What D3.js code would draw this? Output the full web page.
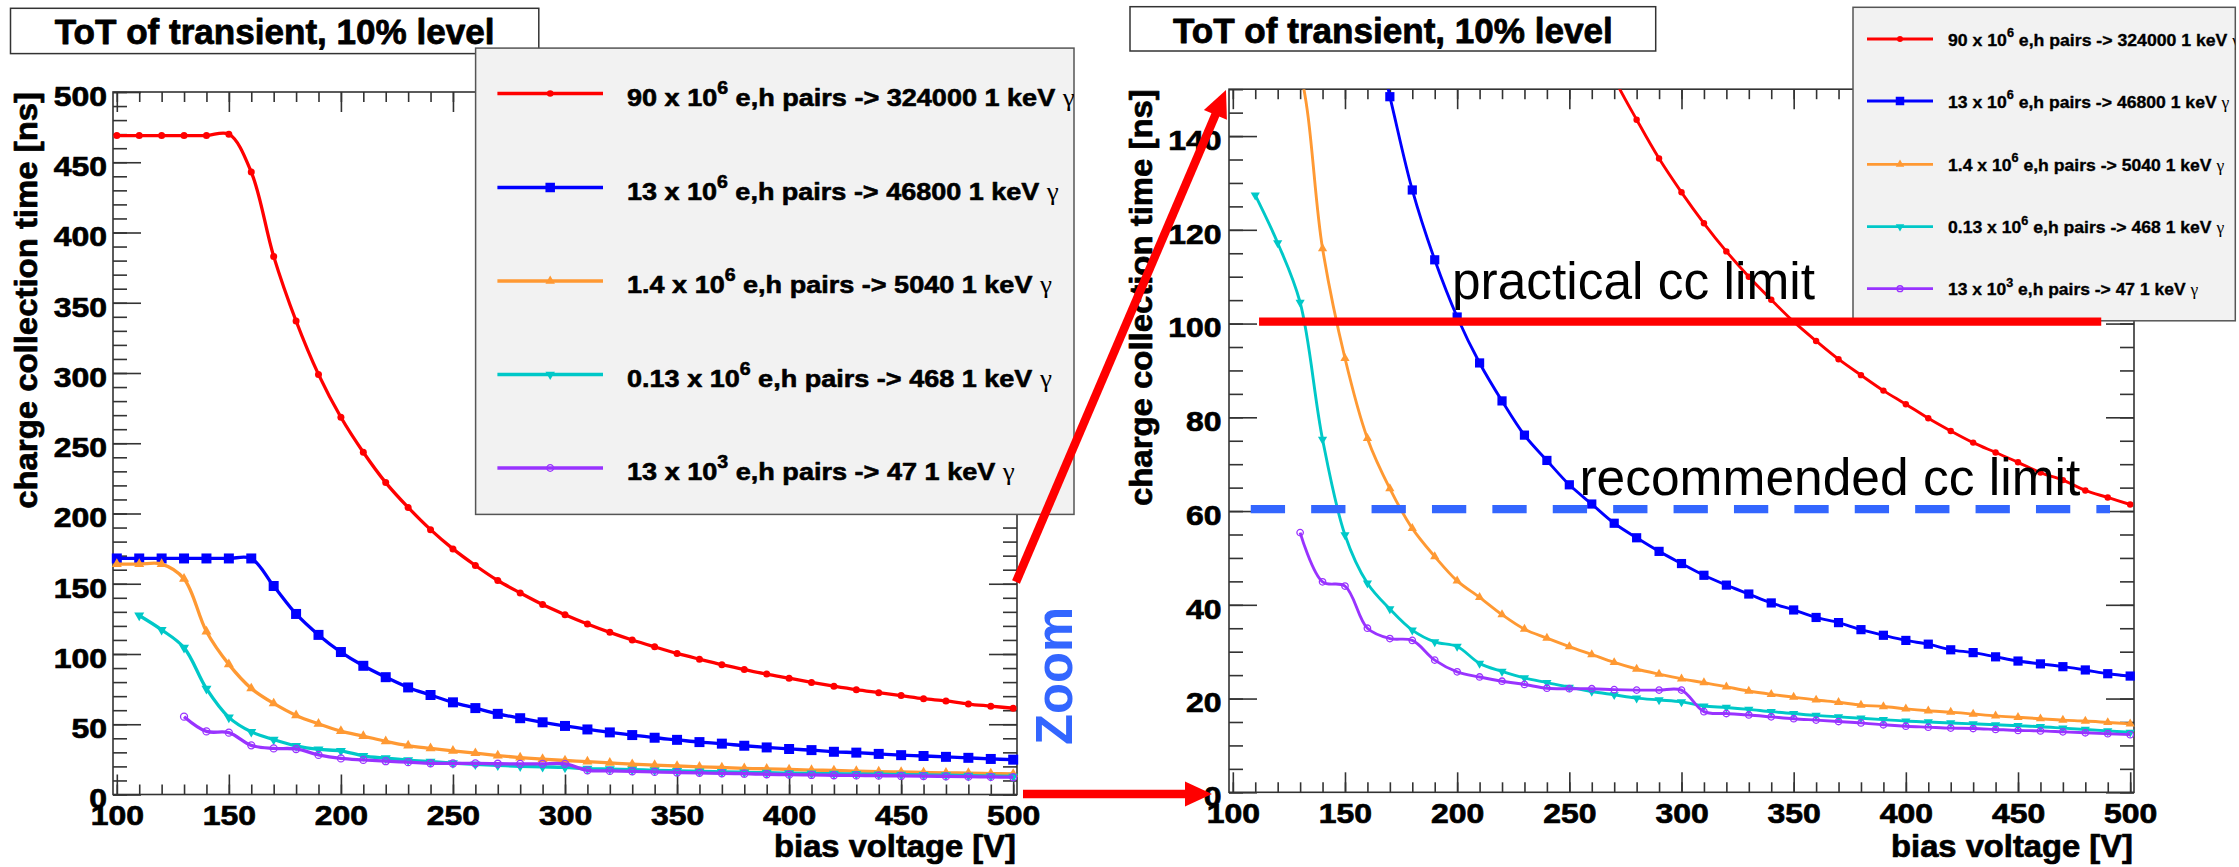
<!DOCTYPE html>
<html lang="en">
<head>
<meta charset="utf-8">
<title>ToT of transient, 10% level</title>
<script src="https://cdn.jsdelivr.net/npm/d3@7"></script>
<style>
  html, body { margin: 0; padding: 0; background: #ffffff; }
  svg { display: block; }
  text { font-family: "Liberation Sans", Arial, Helvetica, sans-serif; white-space: pre; }
</style>
</head>
<body>
<svg id="chart"></svg>
<script>
const width = 2239;
const height = 867;

// bias voltage [V]
const voltages = [100, 110, 120, 130, 140, 150, 160, 170, 180, 190, 200,
  210, 220, 230, 240, 250, 260, 270, 280, 290, 300,
  310, 320, 330, 340, 350, 360, 370, 380, 390, 400,
  410, 420, 430, 440, 450, 460, 470, 480, 490, 500];

// charge collection time [ns], one value per voltage (null = no point)
const ccRed = [469, 469, 469, 469, 469, 470, 443, 383, 337, 299, 268.5,
  243.6, 222, 204.3, 188.5, 174.8, 163, 152.3, 143.5, 135.2, 128,
  121.4, 115.4, 110, 105.1, 100.4, 96.3, 92.4, 89, 85.7, 82.8,
  79.8, 77.1, 74.6, 72.5, 70.4, 68.2, 66.6, 64.4, 62.9, 61.4];
const ccBlue = [168, 168, 168, 168, 168, 168, 168, 148.4, 128.5, 113.6, 101.4,
  91.6, 83.5, 76.2, 70.8, 65.6, 61.5, 57.4, 54.3, 51.4, 48.8,
  46.3, 44.2, 42.3, 40.4, 38.9, 37.3, 36.2, 34.7, 33.5, 32.4,
  31.6, 30.4, 29.8, 28.9, 28, 27.4, 26.8, 26.1, 25.3, 24.8];
const ccOrange = [164, 164, 164, 153.5, 116, 92.6, 75.5, 64.8, 56.3, 50.3, 45.1,
  41.6, 37.9, 34.8, 32.9, 31.1, 29.4, 27.7, 26.3, 25.2, 24.2,
  23.4, 22.5, 21.6, 20.9, 20.3, 19.7, 19.2, 18.6, 18.3, 17.8,
  17.4, 17.1, 16.7, 16.3, 16.0, 15.7, 15.4, 15.2, 14.9, 14.6];
const ccCyan = [null, 127.4, 117.2, 104.5, 75.3, 54.9, 44.6, 39.1, 34.6, 32.1, 31.1,
  27.5, 25.8, 24.4, 23.4, 22.4, 21.5, 20.8, 20.1, 19.7, 19.3,
  18.4, 18.1, 17.7, 17.2, 16.8, 16.4, 16.1, 15.8, 15.5, 15.2,
  15.0, 14.8, 14.6, 14.4, 14.2, 14.0, 13.7, 13.4, 13.1, 12.8];
const ccPurple = [null, null, null, 55.4, 44.9, 44.0, 35.0, 32.8, 32.4, 28.2, 25.7,
  24.6, 23.7, 23.0, 22.2, 22.1, 22.1, 21.9, 21.8, 21.8, 21.8,
  17.2, 16.8, 16.5, 16.1, 15.7, 15.4, 15.1, 14.8, 14.4, 14.1,
  13.9, 13.7, 13.6, 13.4, 13.2, 13.1, 12.9, 12.7, 12.5, 12.3];

// legend texts
const legendMantissa = ["90", "13", "1.4", "0.13", "13"];
const legendExponent = ["6", "6", "6", "6", "3"];
const legendPhotons = ["324000", "46800", "5040", "468", "47"];

// ticks
const xTickLabels = [100, 150, 200, 250, 300, 350, 400, 450, 500];
const yTickLabelsLeft = [0, 50, 100, 150, 200, 250, 300, 350, 400, 450, 500];
const yTickLabelsRight = [0, 20, 40, 60, 80, 100, 120, 140];

// limits on the zoomed plot (as drawn)
const practicalLimit = 100.4;
const recommendedLimit = 60.4;

const series = [
  { values: ccRed, color: "#ff0000", shape: "circle" },
  { values: ccBlue, color: "#0000ff", shape: "square" },
  { values: ccOrange, color: "#ff9933", shape: "up" },
  { values: ccCyan, color: "#00c8c8", shape: "down" },
  { values: ccPurple, color: "#9933ff", shape: "open" }
];

const svg = d3.select("#chart")
  .attr("width", width)
  .attr("height", height);

const xDomain = [98.3, 501.7];

// the two pads: full range and zoom
const panels = [
  { left: 113, right: 1017, top: 92, bottom: 794.5, yMax: 500, yTicks: yTickLabelsLeft,
    yMinor: 10, labelPad: 6, lw: 3.3, mk: 1.0 },
  { left: 1229, right: 2134, top: 89.2, bottom: 792.3, yMax: 150, yTicks: yTickLabelsRight,
    yMinor: 5, labelPad: 7.5, lw: 2.9, mk: 0.92 }
];

function symbolPath(shape, s) {
  if (shape === "square") return d3.symbol(d3.symbolSquare, s * s)();
  if (shape === "up" || shape === "down") return d3.symbol(d3.symbolTriangle, Math.sqrt(3) / 4 * s * s)();
  return d3.symbol(d3.symbolCircle, Math.PI * s * s / 4)();
}

function drawMarker(sel, s, k) {
  const base = s.shape === "square" ? 10 : (s.shape === "up" || s.shape === "down") ? 10 : 7;
  sel.append("path")
    .attr("d", symbolPath(s.shape, base * k))
    .attr("transform", s.shape === "down" ? "rotate(180)" : null)
    .attr("fill", s.shape === "open" ? "none" : s.color)
    .attr("stroke", s.shape === "open" ? s.color : "none")
    .attr("stroke-width", 1.3);
}

// text stretched to a given width (the ROOT font is wider than ours)
function fitText(parent, x, y, targetWidth, build, rotate) {
  const g = parent.append("g");
  const t = g.append("text");
  build(t);
  const w = t.node().getComputedTextLength();
  const k = targetWidth ? targetWidth / w : 1;
  g.attr("transform", `translate(${x},${y})` + (rotate ? ` rotate(${rotate})` : "") + ` scale(${k},1)`);
  return g;
}

function heavy(t, w) {
  return t.attr("stroke", t.attr("fill") || "#000").attr("stroke-width", w).attr("stroke-linejoin", "round");
}

function styleAxis(g) {
  g.select(".domain").remove();
  g.selectAll(".tick line").attr("stroke", "#333").attr("stroke-width", 1.6);
  g.attr("font-size", 28.5).attr("font-family", null);
  g.selectAll("text")
    .attr("font-weight", "bold").attr("fill", "#000")
    .attr("stroke", "#000").attr("stroke-width", 0.7)
    .each(function() {
      const w = this.getComputedTextLength();
      if (w > 0) d3.select(this).attr("textLength", w * 1.12).attr("lengthAdjust", "spacingAndGlyphs");
    });
}

panels.forEach((p, idx) => {
  const x = d3.scaleLinear().domain(xDomain).range([p.left, p.right]);
  const y = d3.scaleLinear().domain([0, p.yMax]).range([p.bottom, p.top]);
  p.x = x; p.y = y;

  const g = svg.append("g");

  g.append("clipPath").attr("id", "clip" + idx)
    .append("rect")
    .attr("x", p.left).attr("y", p.top)
    .attr("width", p.right - p.left).attr("height", p.bottom - p.top);

  const minorX = d3.range(100, 501, 10);
  const minorY = d3.range(0, p.yMax + 0.001, p.yMinor);

  // bottom
  g.append("g").attr("transform", `translate(0,${p.bottom})`)
    .call(d3.axisBottom(x).tickValues(minorX).tickSize(-10).tickFormat(""))
    .call(styleAxis);
  g.append("g").attr("transform", `translate(0,${p.bottom})`)
    .call(d3.axisBottom(x).tickValues(xTickLabels).tickSize(-20).tickPadding(10.5).tickFormat(d3.format("d")))
    .call(styleAxis);
  // top
  g.append("g").attr("transform", `translate(0,${p.top})`)
    .call(d3.axisTop(x).tickValues(minorX).tickSize(-10).tickFormat(""))
    .call(styleAxis);
  g.append("g").attr("transform", `translate(0,${p.top})`)
    .call(d3.axisTop(x).tickValues(xTickLabels).tickSize(-20).tickFormat(""))
    .call(styleAxis);
  // left
  g.append("g").attr("transform", `translate(${p.left},0)`)
    .call(d3.axisLeft(y).tickValues(minorY).tickSize(-14).tickFormat(""))
    .call(styleAxis);
  g.append("g").attr("transform", `translate(${p.left},0)`)
    .call(d3.axisLeft(y).tickValues(p.yTicks).tickSize(-28).tickPadding(p.labelPad).tickFormat(d3.format("d")))
    .call(styleAxis)
    .selectAll("text").attr("dy", "0.47em");
  // right
  g.append("g").attr("transform", `translate(${p.right},0)`)
    .call(d3.axisRight(y).tickValues(minorY).tickSize(-14).tickFormat(""))
    .call(styleAxis);
  g.append("g").attr("transform", `translate(${p.right},0)`)
    .call(d3.axisRight(y).tickValues(p.yTicks).tickSize(-28).tickFormat(""))
    .call(styleAxis);

  // frame
  g.append("rect")
    .attr("x", p.left).attr("y", p.top)
    .attr("width", p.right - p.left).attr("height", p.bottom - p.top)
    .attr("fill", "none").attr("stroke", "#333").attr("stroke-width", 1.6);

  // curves
  const line = d3.line()
    .defined(d => d[1] != null)
    .x(d => x(d[0]))
    .y(d => y(d[1]))
    .curve(d3.curveCatmullRom.alpha(0.5));

  series.forEach(s => {
    const pts = voltages.map((v, i) => [v, s.values[i]]);
    g.append("path")
      .attr("d", line(pts))
      .attr("clip-path", `url(#clip${idx})`)
      .attr("fill", "none")
      .attr("stroke", s.color)
      .attr("stroke-width", p.lw);

    const shown = pts.filter(d => d[1] != null && d[1] <= p.yMax);
    const m = g.append("g").selectAll("g")
      .data(shown)
      .join("g")
      .attr("transform", d => `translate(${x(d[0])},${y(d[1])})`);
    drawMarker(m, s, p.mk);
  });

  // axis titles
  fitText(g, p.right - 1, 856.5, 242, t => heavy(t
    .attr("text-anchor", "end").attr("font-size", 31).attr("font-weight", "bold")
    .text("bias voltage [V]"), 0.7));
  fitText(g, idx === 0 ? 37 : 1152, p.top, 417, t => heavy(t
    .attr("text-anchor", "end").attr("font-size", 31.5).attr("font-weight", "bold")
    .text("charge collection time [ns]"), 0.7), -90);
});

// title boxes
const titles = [
  { x: 10.5, y: 8.3, w: 528.3, h: 45.3, base: 44.2 },
  { x: 1130, y: 6.7, w: 525.7, h: 44.3, base: 42.7 }
];
titles.forEach(b => {
  svg.append("rect")
    .attr("x", b.x).attr("y", b.y).attr("width", b.w).attr("height", b.h)
    .attr("fill", "#fff").attr("stroke", "#333").attr("stroke-width", 1.5);
  fitText(svg, b.x + b.w / 2, b.base, 440, t => heavy(t
    .attr("text-anchor", "middle").attr("font-size", 36).attr("font-weight", "bold")
    .text("ToT of transient, 10% level"), 0.8));
});

// legends
const legends = [
  { x: 475.6, y: 48.1, w: 598.4, h: 466.3, rows: [93.5, 187.5, 281, 374.5, 468],
    l0: 497.4, l1: 603, tx: 627, fs: 24.5, dy: 12.4, lw: 3.3, mk: 0.95,
    widths: [448, 432, 425, 425, 388], heavyW: 0.6 },
  { x: 1853, y: 7.3, w: 382.3, h: 313.5, rows: [39, 101, 164.3, 226.7, 288.7],
    l0: 1867, l1: 1933, tx: 1948, fs: 17.3, dy: 6.7, lw: 2.8, mk: 0.85,
    widths: [292, 281.3, 276, 276, 250], heavyW: 0.35 }
];
legends.forEach(L => {
  const g = svg.append("g");
  g.append("clipPath").attr("id", "legclip" + L.x)
    .append("rect").attr("x", L.x).attr("y", L.y).attr("width", L.w).attr("height", L.h);
  g.append("rect")
    .attr("x", L.x).attr("y", L.y).attr("width", L.w).attr("height", L.h)
    .attr("fill", "#f2f2f2").attr("stroke", "#555").attr("stroke-width", 1.5);
  const inner = g.append("g").attr("clip-path", `url(#legclip${L.x})`);
  series.forEach((s, i) => {
    const yy = L.rows[i];
    inner.append("line")
      .attr("x1", L.l0).attr("x2", L.l1).attr("y1", yy).attr("y2", yy)
      .attr("stroke", s.color).attr("stroke-width", L.lw);
    const m = inner.append("g").attr("transform", `translate(${(L.l0 + L.l1) / 2},${yy})`);
    drawMarker(m, s, L.mk);
    fitText(inner, L.tx, yy + L.dy, L.widths[i], t => {
      t.attr("font-size", L.fs).attr("font-weight", "bold").attr("fill", "#000");
      heavy(t, L.heavyW);
      t.append("tspan").text(`${legendMantissa[i]} x 10`);
      t.append("tspan").attr("font-size", L.fs * 0.72).attr("dy", -L.fs * 0.5).text(legendExponent[i]);
      t.append("tspan").attr("dy", L.fs * 0.5).text(` e,h pairs -> ${legendPhotons[i]} 1 keV `);
      t.append("tspan").attr("font-family", "Liberation Serif, serif").attr("font-weight", "normal")
        .attr("stroke-width", 0).text("γ");
    });
  });
});

// limits on the zoomed pad
const pz = panels[1];
svg.append("line")
  .attr("x1", pz.x(111.7)).attr("x2", pz.x(487.1))
  .attr("y1", pz.y(practicalLimit)).attr("y2", pz.y(practicalLimit))
  .attr("stroke", "#ff0000").attr("stroke-width", 8.3);
svg.append("line")
  .attr("x1", pz.x(108)).attr("x2", pz.x(491))
  .attr("y1", pz.y(recommendedLimit)).attr("y2", pz.y(recommendedLimit))
  .attr("stroke", "#3366ff").attr("stroke-width", 8.3)
  .attr("stroke-dasharray", "34.3,26.1");

fitText(svg, 1452, 298.7, 363, t => t
  .attr("font-size", 51.5).attr("fill", "#000").text("practical cc limit"));
fitText(svg, 1579.4, 494.5, 501, t => t
  .attr("font-size", 51.5).attr("fill", "#000").text("recommended cc limit"));

// zoom annotation
fitText(svg, 1071.5, 745, 138, t => t
  .attr("font-size", 51).attr("font-weight", "bold").attr("fill", "#3366ff").text("Zoom"), -90);

function arrow(x1, y1, x2, y2) {
  const dx = x2 - x1, dy = y2 - y1, len = Math.hypot(dx, dy);
  const ux = dx / len, uy = dy / len;
  const headL = 27, headW = 12.5;
  const bx = x2 - ux * headL, by = y2 - uy * headL;
  svg.append("line")
    .attr("x1", x1).attr("y1", y1).attr("x2", bx + ux * 2).attr("y2", by + uy * 2)
    .attr("stroke", "#ff0000").attr("stroke-width", 8.5);
  svg.append("path")
    .attr("d", `M${x2},${y2}L${bx - uy * headW},${by + ux * headW}L${bx + uy * headW},${by - ux * headW}Z`)
    .attr("fill", "#ff0000");
}
arrow(1016, 582, 1226, 90);
arrow(1023, 794, 1212, 794);
</script>
</body>
</html>
